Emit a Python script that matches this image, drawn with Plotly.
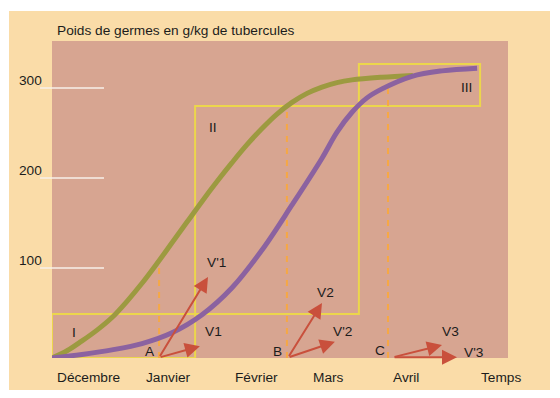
import plotly.graph_objects as go

# ---- data (x in days from start of December, y in g/kg) ----
green_x = [0, 5, 10, 15, 20, 25, 30, 35, 40, 45, 50, 55, 60, 65, 70, 75, 80, 85, 90, 95, 100, 110, 120.3]
green_y = [0, 8, 19, 31, 45, 63, 83, 105, 128, 151, 174, 196, 217, 237, 255, 271, 284, 294, 301, 306, 309, 312, 314]

purple_x = [0, 10, 20, 30, 40, 50, 60, 70, 80, 90, 95, 100, 105, 110, 120, 130, 141.7]
purple_y = [0, 4, 9, 16, 28, 48, 78, 120, 170, 222, 251, 273, 289, 299, 313, 319, 322]

y_ticks = [100, 200, 300]
y_tick_text = ["100", "200", "300"]

month_pos = [12, 38.7, 68, 92, 118, 149.7]
month_text = ["Décembre", "Janvier", "Février", "Mars", "Avril", "Temps"]

# phases boxes (x0, x1, y0, y1)
box_I = (0, 47.7, 0, 48.9)
box_II = (47.7, 102.3, 48.9, 280)
box_III = (102.3, 142.7, 280, 326.7)

# dashed dates A, B, C
dash_x = [35.7, 78.3, 112]
dash_top = [100, 280, 300]

# arrows: (origin x, origin y, tip x, tip y)
arrows = [
    (35.7, 0.5, 52, 90),
    (35.7, 0.5, 49.3, 13),
    (78.7, 0.5, 90, 61),
    (78.7, 0.5, 94.3, 18),
    (113.7, 0.8, 130, 14.4),
    (113.7, 0.8, 135, 0.8),
]

labels_text = ["A", "B", "C", "V'1", "V1", "V2", "V'2", "V3", "V'3", "I", "II", "III"]
labels_x = [32.7, 75.3, 109.3, 54.7, 53.7, 91, 96.7, 132.7, 140.7, 7.3, 53.7, 138]
labels_y = [6.7, 6.7, 7.8, 105.6, 30, 73, 30, 30, 5.6, 27.8, 255.6, 300]

title = "Poids de germes en g/kg de tubercules"

# ---- styles ----
FONT = "Liberation Sans, Arial, Helvetica, sans-serif"
FS = 13.7
TXT = "#1c1c1c"
CREAM = "#fadca8"
ROSE = "#d7a591"
YELLOW = "#ecd64c"
DASH = "#f6a845"
RED = "#c9503c"

fig = go.Figure()

fig.add_trace(go.Scatter(x=green_x, y=green_y, mode="lines",
                         line=dict(color="#9c9a40", width=5, shape="spline", smoothing=1.0),
                         hoverinfo="skip", showlegend=False))
fig.add_trace(go.Scatter(x=purple_x, y=purple_y, mode="lines",
                         line=dict(color="#8b62a0", width=5, shape="spline", smoothing=1.0),
                         hoverinfo="skip", showlegend=False))

shapes = []
# backgrounds
shapes.append(dict(type="rect", xref="paper", yref="paper", x0=-0.0943, x1=1.0921, y0=-0.101, y1=1.0946,
                   fillcolor=CREAM, line=dict(width=0), layer="below"))
shapes.append(dict(type="rect", xref="paper", yref="paper", x0=0, x1=1, y0=0, y1=1,
                   fillcolor=ROSE, line=dict(width=0), layer="below"))
# white tick marks
for v in y_ticks:
    shapes.append(dict(type="line", xref="paper", yref="y", x0=-0.0263, x1=0.114, y0=v, y1=v,
                       line=dict(color="#f7f1ea", width=1.5), layer="below"))
# yellow boxes
for b in (box_I, box_II, box_III):
    shapes.append(dict(type="rect", xref="x", yref="y", x0=b[0], x1=b[1], y0=b[2], y1=b[3],
                       line=dict(color=YELLOW, width=2), fillcolor="rgba(0,0,0,0)", layer="below"))
# dashed lines
for dx, dt in zip(dash_x, dash_top):
    shapes.append(dict(type="line", xref="x", yref="y", x0=dx, x1=dx, y0=0, y1=dt,
                       line=dict(color=DASH, width=2, dash="6px,6px"), layer="below"))

annotations = []
for ox, oy, tx, ty in arrows:
    annotations.append(dict(x=tx, y=ty, ax=ox, ay=oy, xref="x", yref="y", axref="x", ayref="y",
                            text="", showarrow=True, arrowhead=2, arrowsize=1.5, arrowwidth=2,
                            arrowcolor=RED, standoff=0, startstandoff=0))
for t, x, y in zip(labels_text, labels_x, labels_y):
    annotations.append(dict(x=x, y=y, xref="x", yref="y", text=t, showarrow=False,
                            font=dict(family=FONT, size=FS, color=TXT)))
for v, t in zip(y_ticks, y_tick_text):
    annotations.append(dict(x=-0.0175, y=v, xref="paper", yref="y", text=t, showarrow=False,
                            xanchor="right", yanchor="middle", yshift=7,
                            font=dict(family=FONT, size=FS, color=TXT)))
for p, t in zip(month_pos, month_text):
    annotations.append(dict(x=p, y=-0.063, xref="x", yref="paper", text=t, showarrow=False,
                            xanchor="center", yanchor="middle",
                            font=dict(family=FONT, size=FS, color=TXT)))
annotations.append(dict(x=0.0066, y=1.0347, xref="paper", yref="paper", text=title, showarrow=False,
                        xanchor="left", yanchor="middle",
                        font=dict(family=FONT, size=FS, color=TXT)))

# page body has an 8px margin: figure is 552x390 placed at (8, 8)
fig.update_layout(
    width=552, height=390, autosize=False,
    margin=dict(l=44, r=52, t=33, b=40),
    paper_bgcolor="#ffffff",
    plot_bgcolor="rgba(0,0,0,0)",
    xaxis=dict(range=[0, 152], visible=False, fixedrange=True),
    yaxis=dict(range=[0, 352.2], visible=False, fixedrange=True),
    shapes=shapes,
    annotations=annotations,
    showlegend=False,
)

fig.write_html("out.html")
